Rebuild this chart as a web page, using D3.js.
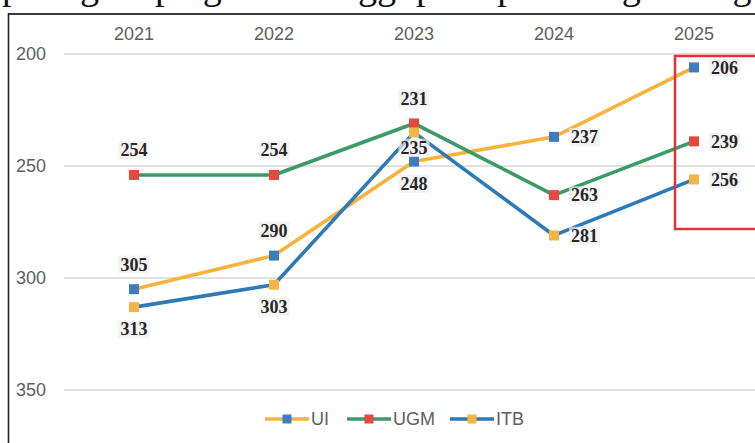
<!DOCTYPE html>
<html><head><meta charset="utf-8">
<script src="https://cdn.jsdelivr.net/npm/d3@7"></script>
<style>
html,body{margin:0;padding:0;background:#fff;overflow:hidden}
svg{display:block}
</style></head>
<body>
<svg id="chart" width="755" height="443"></svg>
<script>
const years = ["2021","2022","2023","2024","2025"];
const seriesNames = ["UI","UGM","ITB"];
const uiValues  = [305, 290, 248, 237, 206];
const ugmValues = [254, 254, 231, 263, 239];
const itbValues = [313, 303, 235, 281, 256];
const yTicks = [200, 250, 300, 350];
// label placement per series per year
const uiPlace  = ["above","above","below","right","right"];
const ugmPlace = ["above","above","above","right","right"];
const itbPlace = ["below","below","below2","right","right"];

const series = [
  {name: seriesNames[0], values: uiValues,  place: uiPlace,  line: "#f7b33b", marker: "#3f7cbf"},
  {name: seriesNames[1], values: ugmValues, place: ugmPlace, line: "#3a9a68", marker: "#e8473d"},
  {name: seriesNames[2], values: itbValues, place: itbPlace, line: "#2f7ab6", marker: "#f5b443"}
];

const svg = d3.select("#chart");
const W = 755, H = 443;
const sans = "Liberation Sans, Arial, sans-serif";

// cut-off text line from the page above (only descenders visible)
svg.append("text").attr("x", 2).attr("y", -1)
  .attr("font-family", "Liberation Serif, serif").attr("font-size", 38)
  .attr("fill", "#111")
  .text("peringkat perguruan tinggi pada pemeringkatan global yang menunjukkan unggulan");

// frame
svg.append("line").attr("x1", 8).attr("x2", W).attr("y1", 14).attr("y2", 14)
  .attr("stroke", "#3a3a3a").attr("stroke-width", 2.2);
svg.append("line").attr("x1", 8.5).attr("x2", 8.5).attr("y1", 13).attr("y2", H)
  .attr("stroke", "#222").attr("stroke-width", 1.6);

const x = d3.scaleBand().domain(years).range([64, 764]).padding(0);
const cx = d => x(d) + x.bandwidth() / 2;
const y = d3.scaleLinear().domain([200, 350]).range([54, 390]);

// gridlines
svg.append("g").selectAll("line").data(yTicks).join("line")
  .attr("x1", 64).attr("x2", W)
  .attr("y1", d => y(d)).attr("y2", d => y(d))
  .attr("stroke", "#d6d6d6").attr("stroke-width", 1.6);

// y axis labels
const yAxis = svg.append("g").attr("transform", "translate(46,0)")
  .call(d3.axisLeft(y).tickValues(yTicks).tickSize(0).tickPadding(0));
yAxis.select(".domain").remove();
yAxis.selectAll("text").attr("font-family", sans)
  .attr("font-size", 18).attr("fill", "#5e5e5e");

// x axis labels (top)
const xAxis = svg.append("g").attr("transform", "translate(0,40)")
  .call(d3.axisTop(x).tickSize(0).tickPadding(0));
xAxis.select(".domain").remove();
xAxis.selectAll("text").attr("font-family", sans)
  .attr("font-size", 18).attr("fill", "#5e5e5e");

// lines
const lineGen = d3.line().x((d, i) => cx(years[i])).y(d => y(d));
svg.append("g").selectAll("path").data(series).join("path")
  .attr("d", s => lineGen(s.values))
  .attr("fill", "none").attr("stroke", s => s.line)
  .attr("stroke-width", 3.6).attr("stroke-linejoin", "round");

// markers
const ms = 10;
series.forEach(s => {
  svg.append("g").selectAll("rect").data(s.values).join("rect")
    .attr("x", (d, i) => cx(years[i]) - ms / 2)
    .attr("y", d => y(d) - ms / 2)
    .attr("width", ms).attr("height", ms)
    .attr("fill", s.marker);
});

// data labels
const lbl = svg.append("g");
series.forEach(s => {
  s.values.forEach((v, i) => {
    const px = cx(years[i]), py = y(v);
    let tx = px, ty = py, anchor = "middle";
    const p = s.place[i];
    if (p === "above") ty = py - 25;
    else if (p === "below") ty = py + 22;
    else if (p === "below2") ty = py + 15;
    else if (p === "right") { tx = px + 17; anchor = "start"; }
    const g = lbl.append("g");
    const t = g.append("text").attr("x", tx).attr("y", ty)
      .attr("dy", "0.35em").attr("text-anchor", anchor)
      .attr("font-family", "Liberation Serif, Times New Roman, serif")
      .attr("font-weight", "bold").attr("font-size", 18)
      .attr("fill", "#262626").text(v);
    const bb = t.node().getBBox();
    g.insert("rect", "text").attr("x", bb.x - 2).attr("y", bb.y + 1)
      .attr("width", bb.width + 4).attr("height", bb.height - 2)
      .attr("fill", "#efefef").attr("opacity", 0.7);
  });
});

// red highlight box
svg.append("rect").attr("x", 675).attr("y", 56).attr("width", 100).attr("height", 173)
  .attr("fill", "none").attr("stroke", "#e5303a").attr("stroke-width", 2.5);

// legend
const legendX = [265, 347, 450];
const lg = svg.append("g");
series.forEach((s, i) => {
  const lx = legendX[i], ly = 419;
  const g = lg.append("g");
  g.append("line").attr("x1", lx).attr("x2", lx + 44).attr("y1", ly).attr("y2", ly)
    .attr("stroke", s.line).attr("stroke-width", 3.6);
  g.append("rect").attr("x", lx + 22 - 4.5).attr("y", ly - 4.5)
    .attr("width", 9).attr("height", 9).attr("fill", s.marker);
  g.append("text").attr("x", lx + 46).attr("y", ly).attr("dy", "0.35em")
    .attr("font-family", sans)
    .attr("font-size", 18).attr("fill", "#5e5e5e").text(s.name);
});
</script>
</body></html>
